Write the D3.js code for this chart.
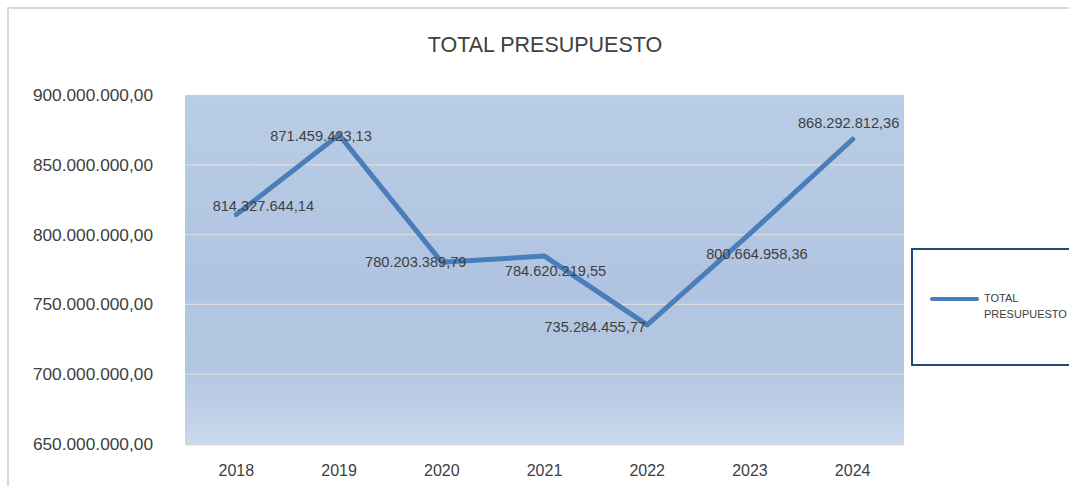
<!DOCTYPE html>
<html>
<head>
<meta charset="utf-8">
<script src="https://cdn.jsdelivr.net/npm/d3@7"></script>
<style>
  body { margin: 0; background: #fff; }
  svg { display: block; font-family: "Liberation Sans", Arial, sans-serif; }
</style>
</head>
<body>
<script>
// data
var years = ["2018", "2019", "2020", "2021", "2022", "2023", "2024"];
var totals = [814327644.14, 871459423.13, 780203389.79, 784620219.55, 735284455.77, 800664958.36, 868292812.36];
var yTicks = [650000000, 700000000, 750000000, 800000000, 850000000, 900000000];
var seriesName = "TOTAL PRESUPUESTO";

// label nudges (dx, dy) from each point, as placed in the original
var labelNudge = [[27, -9], [-18, 1], [-26, 0], [11, 15], [-52, 2], [7, 20], [-4, -16]];

var svgWidth = 1069;
var svgHeight = 486;
var plot = { left: 185, right: 904, top: 95, bottom: 444 };

var svg = d3.select("body").append("svg")
  .attr("width", svgWidth)
  .attr("height", svgHeight);

// outer chart border (only top and left visible)
svg.append("path")
  .attr("d", "M8,486 L8,8 L1069,8")
  .attr("fill", "none")
  .attr("stroke", "#d9d9d9")
  .attr("stroke-width", 2);

// plot background gradient
var defs = svg.append("defs");
var grad = defs.append("linearGradient")
  .attr("id", "bg")
  .attr("x1", 0).attr("y1", 0).attr("x2", 0).attr("y2", 1);
grad.append("stop").attr("offset", "0%").attr("stop-color", "#b9cde6");
grad.append("stop").attr("offset", "55%").attr("stop-color", "#b0c4e1");
grad.append("stop").attr("offset", "80%").attr("stop-color", "#b4c7e2");
grad.append("stop").attr("offset", "100%").attr("stop-color", "#c9d8ec");

svg.append("rect")
  .attr("x", plot.left)
  .attr("y", plot.top)
  .attr("width", plot.right - plot.left)
  .attr("height", plot.bottom - plot.top)
  .attr("fill", "url(#bg)");

var x = d3.scaleBand()
  .domain(years)
  .range([plot.left, plot.right]);

var y = d3.scaleLinear()
  .domain([650000000, 900000000])
  .range([plot.bottom, plot.top]);

// spanish style number format 1.234.567,89
var esLocale = d3.formatLocale({ decimal: ",", thousands: ".", grouping: [3], currency: ["", ""] });
var fmt = esLocale.format(",.2f");

// gridlines
svg.append("g")
  .selectAll("line")
  .data(yTicks.slice(1, -1))
  .enter()
  .append("line")
  .attr("x1", plot.left)
  .attr("x2", plot.right)
  .attr("y1", d => y(d))
  .attr("y2", d => y(d))
  .attr("stroke", "#dcdcdc")
  .attr("stroke-width", 1.3);

// y axis labels
var leftAxis = d3.axisLeft(y)
  .tickValues(yTicks)
  .tickFormat(fmt)
  .tickSize(0)
  .tickPadding(0);

var yAxis = svg.append("g")
  .attr("transform", "translate(153,0)")
  .call(leftAxis);
yAxis.select(".domain").remove();
yAxis.selectAll("text")
  .attr("font-size", 17.3)
  .attr("font-family", "Liberation Sans, Arial, sans-serif")
  .attr("fill", "#404040");

// x axis
var bottomAxis = d3.axisBottom(x).tickSize(0).tickPadding(0);
var xAxis = svg.append("g")
  .attr("transform", `translate(0, ${plot.bottom})`)
  .call(bottomAxis);
xAxis.select(".domain")
  .attr("stroke", "#d9d9d9")
  .attr("stroke-width", 2);
xAxis.selectAll("text")
  .attr("y", 32)
  .attr("dy", 0)
  .attr("font-size", 16)
  .attr("font-family", "Liberation Sans, Arial, sans-serif")
  .attr("fill", "#404040");

// line
var line = d3.line()
  .x((d, i) => x(years[i]) + x.bandwidth() / 2)
  .y(d => y(d));

svg.append("path")
  .datum(totals)
  .attr("d", line)
  .attr("fill", "none")
  .attr("stroke", "#4a7ebb")
  .attr("stroke-width", 5)
  .attr("stroke-linejoin", "round")
  .attr("stroke-linecap", "round");

// data labels
svg.append("g")
  .selectAll("text")
  .data(totals)
  .enter()
  .append("text")
  .attr("x", (d, i) => x(years[i]) + x.bandwidth() / 2 + labelNudge[i][0])
  .attr("y", (d, i) => y(d) + labelNudge[i][1])
  .attr("dy", "0.35em")
  .attr("text-anchor", "middle")
  .attr("font-size", 14.6)
  .attr("fill", "#404040")
  .text(d => fmt(d));

// title
svg.append("text")
  .attr("x", 545)
  .attr("y", 52)
  .attr("text-anchor", "middle")
  .attr("font-size", 21.5)
  .attr("fill", "#404040")
  .text(seriesName);

// legend
var legend = svg.append("g");
legend.append("rect")
  .attr("x", 912)
  .attr("y", 249)
  .attr("width", 170)
  .attr("height", 116)
  .attr("fill", "#fff")
  .attr("stroke", "#1f497d")
  .attr("stroke-width", 2);
legend.append("line")
  .attr("x1", 932).attr("x2", 977)
  .attr("y1", 299).attr("y2", 299)
  .attr("stroke", "#4a7ebb")
  .attr("stroke-width", 4)
  .attr("stroke-linecap", "round");
var legendText = legend.append("text")
  .attr("x", 984)
  .attr("font-size", 11)
  .attr("fill", "#404040");
legendText.append("tspan").attr("x", 984).attr("y", 302).text("TOTAL");
legendText.append("tspan").attr("x", 984).attr("y", 318).text("PRESUPUESTO");
</script>
</body>
</html>
